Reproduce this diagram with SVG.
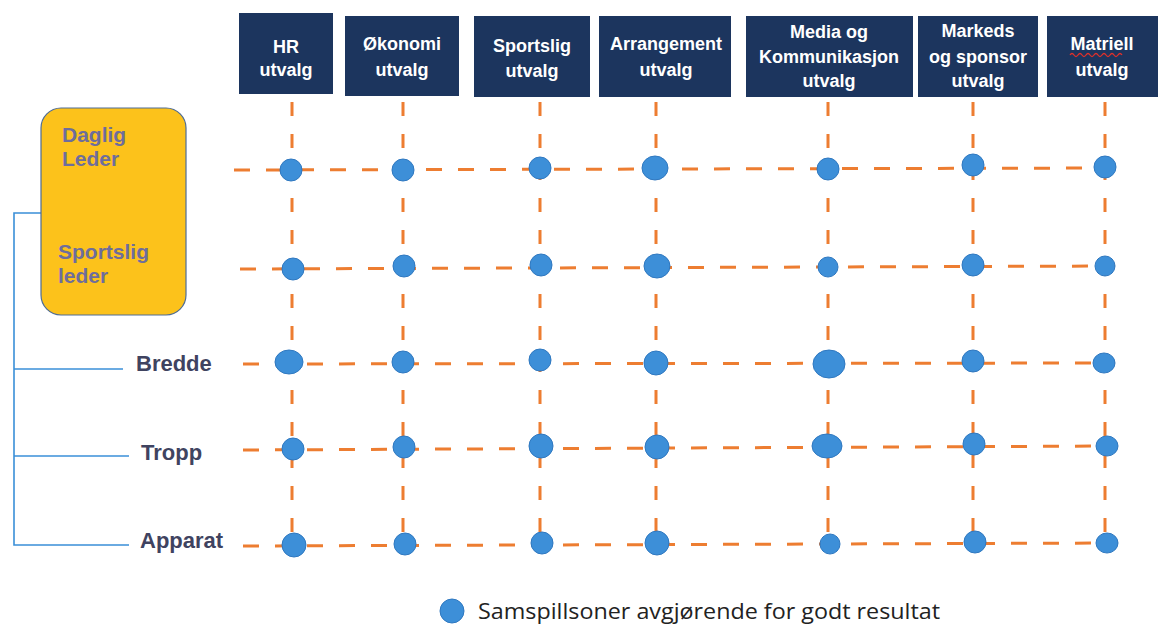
<svg xmlns="http://www.w3.org/2000/svg" width="1158" height="625" viewBox="0 0 1158 625">
<style>
.hdr{fill:#1c355e}
.ht{font-family:"Liberation Sans",Arial,sans-serif;font-weight:bold;font-size:18px;fill:#ffffff;text-anchor:middle}
.lv{font-family:"Liberation Sans",Arial,sans-serif;font-weight:bold;font-size:22px;fill:#3f4360}
.ld{font-family:"Liberation Sans",Arial,sans-serif;font-weight:bold;font-size:21px;fill:#6e6d9c}
.h{stroke:#ed7d31;stroke-width:3;stroke-dasharray:16 16;fill:none}
.v{stroke:#ed7d31;stroke-width:3;stroke-dasharray:14 18;fill:none}
.dot{fill:#3d8fd8;stroke:#2f78c0;stroke-width:1}
.br{stroke:#3a8fd8;stroke-width:1.6;fill:none}
.leg{font-family:"Open Sans","Liberation Sans",sans-serif;font-size:22px;fill:#222222}
</style>
<rect width="1158" height="625" fill="#ffffff"/>

<g id="connectors">
<line class="v" x1="292" y1="102" x2="292" y2="548"/>
<line class="v" x1="403" y1="102" x2="403" y2="548"/>
<line class="v" x1="540" y1="102" x2="540" y2="548"/>
<line class="v" x1="656" y1="102" x2="656" y2="548"/>
<line class="v" x1="828" y1="102" x2="828" y2="548"/>
<line class="v" x1="973" y1="102" x2="973" y2="548"/>
<line class="v" x1="1105" y1="102" x2="1105" y2="548"/>
<line class="h" x1="234" y1="170" x2="1115" y2="168"/>
<line class="h" x1="240" y1="269" x2="1115" y2="266"/>
<line class="h" x1="243" y1="364" x2="1115" y2="363"/>
<line class="h" x1="243" y1="450" x2="1115" y2="446"/>
<line class="h" x1="243" y1="546" x2="1118" y2="543"/>
<polyline class="br" points="41,213 14,213 14,545 129,545"/>
<line class="br" x1="14" y1="369" x2="123" y2="369"/>
<line class="br" x1="14" y1="456" x2="129" y2="456"/>
</g>

<g id="header-hr"><rect class="hdr" x="239" y="13" width="94" height="81"/><text class="ht" x="286" y="53">HR</text><text class="ht" x="286" y="76">utvalg</text></g>
<g id="header-okonomi"><rect class="hdr" x="345" y="16" width="114" height="80"/><text class="ht" x="402" y="50">Økonomi</text><text class="ht" x="402" y="76">utvalg</text></g>
<g id="header-sportslig"><rect class="hdr" x="474" y="16" width="116" height="81"/><text class="ht" x="532" y="52">Sportslig</text><text class="ht" x="532" y="77">utvalg</text></g>
<g id="header-arrangement"><rect class="hdr" x="599" y="16" width="132" height="81"/><text class="ht" x="666" y="50">Arrangement</text><text class="ht" x="666" y="76">utvalg</text></g>
<g id="header-media"><rect class="hdr" x="746" y="16" width="167" height="81"/><text class="ht" x="829" y="38">Media og</text><text class="ht" x="829" y="63">Kommunikasjon</text><text class="ht" x="829" y="87">utvalg</text></g>
<g id="header-markeds"><rect class="hdr" x="918" y="16" width="120" height="81"/><text class="ht" x="978" y="37">Markeds</text><text class="ht" x="978" y="63">og sponsor</text><text class="ht" x="978" y="87">utvalg</text></g>
<g id="header-matriell"><rect class="hdr" x="1047" y="16" width="111" height="81"/><text class="ht" x="1102" y="50">Matriell</text><path d="M1070,55 q2,-3 4,0 t4,0 t4,0 t4,0 t4,0 t4,0 t4,0 t4,0 t4,0 t4,0 t4,0 t4,0 t4,0" stroke="#e0302a" stroke-width="1.3" fill="none"/><text class="ht" x="1102" y="76">utvalg</text></g>

<g id="leader-box">
<rect x="41" y="108" width="145" height="207" rx="20" ry="20" fill="#fcc21b" stroke="#4e6c96" stroke-width="1.2"/>
<text class="ld" x="62" y="142">Daglig</text><text class="ld" x="62" y="166">Leder</text>
<text class="ld" x="58" y="259">Sportslig</text><text class="ld" x="58" y="283">leder</text>
</g>
<g id="label-bredde"><text class="lv" x="136" y="371">Bredde</text></g>
<g id="label-tropp"><text class="lv" x="141" y="460">Tropp</text></g>
<g id="label-apparat"><text class="lv" x="140" y="548">Apparat</text></g>

<g id="dots">
<circle class="dot" cx="291" cy="170" r="11"/>
<circle class="dot" cx="403" cy="170" r="11"/>
<circle class="dot" cx="540" cy="168" r="11"/>
<ellipse class="dot" cx="655" cy="168" rx="13" ry="12"/>
<circle class="dot" cx="828" cy="169" r="11"/>
<circle class="dot" cx="973" cy="165" r="11"/>
<circle class="dot" cx="1105" cy="167" r="11"/>

<circle class="dot" cx="293" cy="269" r="11"/>
<circle class="dot" cx="404" cy="266" r="11"/>
<circle class="dot" cx="541" cy="265" r="11"/>
<ellipse class="dot" cx="657" cy="266" rx="13" ry="12"/>
<circle class="dot" cx="828" cy="267" r="10"/>
<circle class="dot" cx="973" cy="265" r="11"/>
<circle class="dot" cx="1105" cy="266" r="10"/>

<ellipse class="dot" cx="289" cy="362" rx="14" ry="12"/>
<circle class="dot" cx="403" cy="362" r="11"/>
<circle class="dot" cx="540" cy="360" r="11"/>
<circle class="dot" cx="656" cy="363" r="12"/>
<ellipse class="dot" cx="829" cy="364" rx="16" ry="14"/>
<circle class="dot" cx="973" cy="361" r="11"/>
<ellipse class="dot" cx="1104" cy="363" rx="11" ry="10"/>

<circle class="dot" cx="293" cy="449" r="11"/>
<circle class="dot" cx="404" cy="447" r="11"/>
<circle class="dot" cx="541" cy="446" r="12"/>
<circle class="dot" cx="657" cy="447" r="12"/>
<ellipse class="dot" cx="827" cy="446" rx="15" ry="12"/>
<circle class="dot" cx="974" cy="444" r="11"/>
<ellipse class="dot" cx="1107" cy="446" rx="11" ry="10"/>

<circle class="dot" cx="294" cy="545" r="12"/>
<circle class="dot" cx="405" cy="544" r="11"/>
<circle class="dot" cx="542" cy="543" r="11"/>
<circle class="dot" cx="657" cy="543" r="12"/>
<circle class="dot" cx="830" cy="544" r="10"/>
<circle class="dot" cx="975" cy="542" r="11"/>
<ellipse class="dot" cx="1107" cy="543" rx="11" ry="10"/>
</g>

<g id="legend">
<circle class="dot" cx="452" cy="611" r="12"/>
<text class="leg" x="478" y="619" textLength="462" lengthAdjust="spacingAndGlyphs">Samspillsoner avgjørende for godt resultat</text>
</g>
</svg>
